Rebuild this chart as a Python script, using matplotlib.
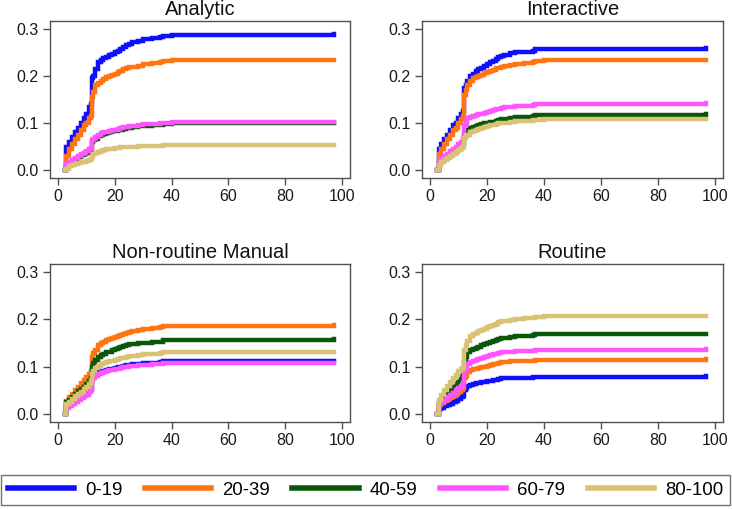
import numpy as np
import matplotlib
matplotlib.use('Agg')
import matplotlib.pyplot as plt

# Step knots on the x axis
days = [2.5, 3, 4, 5, 6, 7, 8, 9, 10, 11, 11.5, 12, 12.5, 13, 14, 15, 16, 17, 18, 19,
        20, 21, 22, 23, 24, 25, 26, 28, 30, 33, 36, 37, 40, 97]

groups = ['0-19', '20-39', '40-59', '60-79', '80-100']
colors = ['#0f0fff', '#ff7512', '#0a560a', '#ff55ff', '#d9c275']
titles = ['Analytic', 'Interactive', 'Non-routine Manual', 'Routine']

# Analytic
an_0_19 = [0, .050, .060, .070, .080, .090, .100, .110, .120, .135, .140, .195, .200, .215, .230, .235, .238,
           .241, .244, .247, .250, .254, .258, .262, .266, .269, .272, .275, .278, .280, .282, .286, .288, .289]
an_20_39 = [0, .030, .045, .055, .065, .075, .085, .095, .100, .110, .115, .155, .165, .180, .185, .190, .194,
            .197, .200, .203, .205, .208, .211, .214, .217, .219, .220, .222, .225, .227, .229, .232, .233, .235]
an_40_59 = [0, .010, .015, .019, .023, .027, .031, .034, .037, .041, .043, .060, .063, .067, .072, .075, .077,
            .078, .080, .082, .083, .085, .086, .088, .089, .090, .091, .093, .094, .095, .096, .098, .099, .099]
an_60_79 = [0, .012, .018, .022, .026, .030, .034, .037, .040, .044, .046, .063, .066, .070, .075, .078, .080,
            .081, .083, .085, .086, .088, .089, .091, .092, .093, .094, .096, .097, .098, .099, .101, .102, .102]
an_80_100 = [0, .003, .008, .010, .012, .014, .016, .018, .020, .022, .024, .030, .033, .036, .039, .041, .043,
             .044, .045, .045, .046, .047, .048, .048, .049, .050, .050, .051, .051, .052, .052, .053, .053, .054]

# Interactive
in_0_19 = [0, .045, .055, .065, .075, .085, .095, .100, .110, .120, .125, .175, .180, .190, .200, .205, .210,
           .214, .218, .222, .225, .229, .232, .236, .240, .243, .245, .248, .250, .252, .254, .257, .258, .260]
in_20_39 = [0, .035, .045, .055, .065, .075, .085, .090, .100, .108, .115, .160, .170, .180, .190, .195, .198,
            .200, .203, .206, .208, .211, .213, .216, .218, .220, .222, .224, .226, .228, .229, .232, .233, .235]
in_40_59 = [0, .015, .020, .025, .029, .033, .037, .041, .045, .050, .055, .075, .080, .085, .090, .091, .093,
            .095, .097, .099, .100, .102, .103, .105, .106, .108, .109, .111, .112, .113, .114, .117, .118, .119]
in_60_79 = [0, .020, .025, .030, .035, .040, .045, .050, .055, .060, .065, .095, .100, .110, .113, .115, .117,
            .119, .120, .122, .123, .125, .127, .129, .130, .132, .133, .135, .136, .137, .138, .140, .141, .142]
in_80_100 = [0, .010, .018, .022, .026, .030, .034, .038, .042, .046, .050, .068, .072, .075, .080, .083, .085,
             .087, .090, .092, .093, .095, .096, .098, .099, .100, .101, .103, .104, .105, .106, .107, .108, .108]

# Non-routine Manual
nm_0_19 = [0, .018, .022, .026, .030, .034, .038, .042, .046, .050, .055, .075, .080, .085, .088, .090, .091,
           .093, .094, .096, .097, .099, .100, .102, .103, .104, .105, .106, .107, .108, .109, .111, .112, .113]
nm_20_39 = [0, .028, .035, .042, .050, .058, .065, .072, .078, .085, .090, .120, .128, .135, .145, .150, .153,
            .156, .158, .160, .162, .165, .167, .170, .172, .174, .176, .178, .180, .182, .183, .185, .186, .188]
nm_40_59 = [0, .025, .030, .036, .042, .048, .053, .058, .063, .070, .075, .100, .108, .115, .120, .124, .127,
            .130, .132, .135, .137, .139, .141, .143, .145, .147, .148, .150, .151, .152, .153, .156, .157, .158]
nm_60_79 = [0, .012, .017, .021, .025, .029, .033, .037, .041, .046, .050, .070, .075, .080, .085, .087, .089,
            .090, .092, .093, .095, .096, .098, .099, .100, .101, .102, .103, .104, .105, .106, .107, .108, .108]
nm_80_100 = [0, .020, .026, .032, .037, .042, .047, .052, .057, .063, .070, .085, .090, .097, .102, .105, .107,
             .109, .111, .113, .115, .116, .118, .119, .121, .122, .123, .125, .126, .127, .128, .130, .131, .132]

# Routine
ro_0_19 = [0, .010, .013, .016, .019, .022, .025, .028, .031, .035, .038, .050, .055, .060, .062, .064, .065,
           .066, .067, .068, .069, .070, .071, .072, .074, .075, .075, .076, .077, .077, .078, .079, .079, .080]
ro_20_39 = [0, .018, .023, .027, .031, .035, .039, .043, .047, .051, .055, .075, .080, .088, .092, .094, .096,
            .097, .099, .100, .102, .103, .105, .106, .108, .109, .110, .111, .112, .113, .113, .115, .115, .116]
ro_40_59 = [0, .020, .030, .037, .044, .051, .058, .064, .070, .078, .085, .110, .120, .130, .135, .138, .140,
            .142, .145, .147, .150, .152, .154, .156, .158, .160, .161, .163, .164, .165, .166, .168, .169, .170]
ro_60_79 = [0, .020, .025, .030, .035, .040, .045, .050, .055, .060, .065, .090, .095, .105, .110, .113, .115,
            .117, .119, .121, .123, .124, .126, .127, .129, .130, .131, .132, .133, .134, .134, .136, .136, .137]
ro_80_100 = [0, .030, .040, .050, .060, .068, .075, .082, .090, .095, .100, .135, .145, .155, .165, .170, .172,
             .175, .178, .180, .183, .185, .188, .191, .194, .196, .197, .199, .201, .202, .203, .206, .207, .208]

panels = [
    [an_0_19, an_20_39, an_40_59, an_60_79, an_80_100],
    [in_0_19, in_20_39, in_40_59, in_60_79, in_80_100],
    [nm_0_19, nm_20_39, nm_40_59, nm_60_79, nm_80_100],
    [ro_0_19, ro_20_39, ro_40_59, ro_60_79, ro_80_100],
]

plt.rcParams['font.family'] = ['Liberation Sans', 'DejaVu Sans']

W, H = 732, 509
fig = plt.figure(figsize=(W / 100, H / 100), dpi=100)

# axes boxes in pixels: left, top, right, bottom
boxes = [(50, 21, 350, 178), (422, 21, 723, 178),
         (50, 264, 350, 422), (422, 264, 723, 422)]

spine_col = '#505050'
for box, title, series in zip(boxes, titles, panels):
    l, t, r, b = box
    ax = fig.add_axes([l / W, 1 - b / H, (r - l) / W, (b - t) / H])
    for vals, c, g in zip(series, colors, groups):
        ax.plot(days, vals, drawstyle='steps-post', color=c, lw=3.2,
                solid_joinstyle='miter', label=g)
    ax.set_xlim(-2.8, 102.8)
    ax.set_ylim(-0.017, 0.317)
    ax.set_xticks([0, 20, 40, 60, 80, 100])
    ax.set_yticks([0.0, 0.1, 0.2, 0.3])
    ax.set_yticklabels(['0.0', '0.1', '0.2', '0.3'])
    ax.tick_params(direction='out', length=5, width=1, color=spine_col,
                   labelsize=11.5, labelcolor='#1a1a1a', pad=3)
    for s in ax.spines.values():
        s.set_color(spine_col)
        s.set_linewidth(1)
    ax.set_title(title, fontsize=14.5, color='#111111', pad=4.5)

# legend along the bottom
handles = fig.axes[0].get_lines()
leg = fig.legend(handles, groups, loc='center', ncol=5, mode='expand',
                 bbox_to_anchor=(1 / W, 1 - 508 / H, 729 / W, 36 / H),
                 frameon=True, fancybox=False, handlelength=3.55, handletextpad=0.6,
                 borderpad=0.35, borderaxespad=0, prop={'size': 13.4})
leg.get_frame().set_edgecolor(spine_col)
leg.get_frame().set_linewidth(1)
for ln in leg.get_lines():
    ln.set_linewidth(4)

fig.savefig('out.png', dpi=100)
